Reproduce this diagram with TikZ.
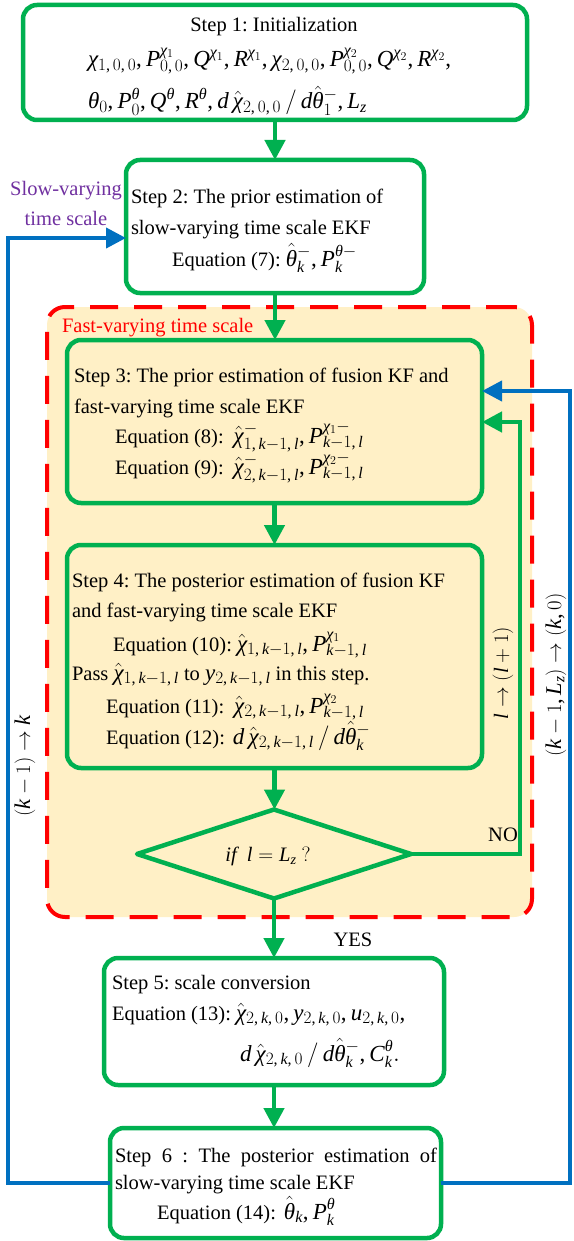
\documentclass[tikz,border=0pt]{standalone}
\usepackage{fontspec}
\setmainfont{Liberation Serif}
\DeclareSymbolFont{tuit}{TU}{\rmdefault}{m}{it}
\DeclareSymbolFont{turm}{TU}{\rmdefault}{m}{n}
\makeatletter
\count@=`a \loop \Umathcode\count@="7 \symtuit \count@ \ifnum\count@<`z \advance\count@ 1 \repeat
\count@=`A \loop \Umathcode\count@="7 \symtuit \count@ \ifnum\count@<`Z \advance\count@ 1 \repeat
\count@=`0 \loop \Umathcode\count@="7 \symturm \count@ \ifnum\count@<`9 \advance\count@ 1 \repeat
\makeatother
\Umathcode`(="4 \symturm `(
\Umathcode`)="5 \symturm `)
\Umathcode`,="6 \symturm `,
\Umathcode`/="0 \symturm `/
\Umathchardef\chi="7 \symtuit "03C7
\Umathchardef\theta="7 \symtuit "03B8
\newcommand\mth[1]{{\fontsize{23}{25}\selectfont$#1$}}
\usetikzlibrary{arrows.meta,shapes.geometric}
\definecolor{gr}{HTML}{00B050}
\definecolor{bl}{HTML}{0070C0}
\definecolor{rd}{HTML}{FF0000}
\definecolor{pu}{HTML}{7030A0}
\definecolor{ye}{HTML}{FFF0C6}
\begin{document}
\frenchspacing
\begin{tikzpicture}[x=1pt,y=-1pt,
 every node/.style={font=\fontsize{20.5}{25}\selectfont, inner sep=0pt, outer sep=0pt},
 stepbox/.style={draw=gr, line width=4.5pt, rounded corners=14pt, anchor=north west},
 garrow/.style={draw=gr, line width=4.5pt, -{Triangle[length=20pt,width=20pt]}},
 barrow/.style={draw=bl, line width=4pt, -{Triangle[length=20pt,width=20pt]}},
 txt/.style={anchor=base west},
]
\fill[white] (0,0) rectangle (573,1241);
\useasboundingbox (0,0) rectangle (573,1241);

% fast-varying region
\node[draw=rd, fill=ye, line width=4pt, dash pattern=on 28pt off 16pt, rounded corners=18pt,
      minimum width=485pt, minimum height=610pt, anchor=north west] (fast) at (47,307) {};
\node[txt, text=rd] (fastlbl) at (62,332) {Fast-varying time scale};

% boxes
\node[stepbox, fill=white, minimum width=504pt, minimum height=115pt] (s1) at (23,5) {};
\node[stepbox, fill=white, minimum width=298pt, minimum height=133pt] (s2) at (126,160) {};
\node[stepbox, minimum width=415pt, minimum height=163pt] (s3) at (67,340) {};
\node[stepbox, minimum width=415pt, minimum height=223pt] (s4) at (67,545) {};
\node[draw=gr, line width=4.5pt, line join=round, diamond, minimum width=274pt, minimum height=89pt] (dec) at (274,854) {};
\node[stepbox, fill=white, minimum width=340pt, minimum height=127pt] (s5) at (104,958) {};
\node[stepbox, fill=white, minimum width=331pt, minimum height=110pt] (s6) at (110,1128) {};

% step 1 text
\node[anchor=base] (t1a) at (274,32) {Step 1: Initialization};
\node[txt] (t1b) at (88,67) {\mth{\chi_{1,\,0,\,0}, P^{\chi_1}_{0,\,0}, Q^{\chi_1}, R^{\chi_1}, \chi_{2,\,0,\,0}, P^{\chi_2}_{0,\,0}, Q^{\chi_2}, R^{\chi_2},}};
\node[txt] (t1c) at (88,109) {\mth{\theta_0, P^{\theta}_0, Q^{\theta}, R^{\theta}, d\,\hat{\chi}_{2,\,0,\,0}\,/\,d\hat{\theta}^-_1, L_z}};

% step 2 text
\node[txt] (t2a) at (131,204) {Step 2: The prior estimation of};
\node[txt] (t2b) at (131,235) {slow-varying time scale EKF};
\node[txt] (t2c) at (172,266) {Equation (7): \mth{\hat{\theta}^-_k, P^{\theta-}_k}};

% step 3 text
\node[txt] (t3a) at (74,382) {Step 3: The prior estimation of fusion KF and};
\node[txt] (t3b) at (74,413) {fast-varying time scale EKF};
\node[txt] (t3c) at (115,443) {Equation (8):\hspace{10pt}\mth{\hat{\chi}^-_{1,\,k-1,\,l}, P^{\chi_1-}_{k-1,\,l}}};
\node[txt] (t3d) at (115,474) {Equation (9):\hspace{10pt}\mth{\hat{\chi}^-_{2,\,k-1,\,l}, P^{\chi_2-}_{k-1,\,l}}};

% step 4 text
\node[txt] (t4a) at (72,587) {Step 4: The posterior estimation of fusion KF};
\node[txt] (t4b) at (72,617) {and fast-varying time scale EKF};
\node[txt] (t4c) at (113,651) {Equation (10): \mth{\hat{\chi}_{1,\,k-1,\,l}, P^{\chi_1}_{k-1,\,l}}};
\node[txt] (t4d) at (72,680) {Pass \mth{\hat{\chi}_{1,\,k-1,\,l}} to \mth{y_{2,\,k-1,\,l}} in this step.};
\node[txt] (t4e) at (106,713) {Equation (11):\hspace{10pt}\mth{\hat{\chi}_{2,\,k-1,\,l}, P^{\chi_2}_{k-1,\,l}}};
\node[txt] (t4f) at (106,744) {Equation (12):\hspace{8pt}\mth{d\,\hat{\chi}_{2,\,k-1,\,l}\,/\,d\hat{\theta}^-_k}};

% decision text
\node (tdec) at (268,856) {$\mathit{if}\ \ l = L_z\ ?$};

% step 5 text
\node[txt] (t5a) at (112,989) {Step 5: scale conversion};
\node[txt] (t5b) at (112,1020) {Equation (13): \mth{\hat{\chi}_{2,\,k,\,0}, y_{2,\,k,\,0}, u_{2,\,k,\,0},}};
\node[txt] (t5c) at (240,1061) {\mth{d\,\hat{\chi}_{2,\,k,\,0}\,/\,d\hat{\theta}^-_k, C^{\theta}_k.}};

% step 6 text
\node[txt] (t6a) at (115,1162) {\makebox[322pt][s]{Step 6 : The posterior estimation of}};
\node[txt] (t6b) at (115,1189) {slow-varying time scale EKF};
\node[txt] (t6c) at (157,1219) {Equation (14):\hspace{8pt}\mth{\hat{\theta}_k, P^{\theta}_k}};

% green flow
\draw[garrow] (s1.south) -- (s1.south |- s2.north);
\draw[garrow] (s2.south) -- (s2.south |- s3.north);
\draw[garrow] (s3.south) -- (s3.south |- s4.north);
\draw[garrow] (s4.south) -- (s4.south |- dec.north);
\draw[garrow] (dec.south) -- (dec.south |- s5.north);
\draw[garrow] (s5.south) -- (s5.south |- s6.north);
\coordinate (lp) at (520,422);
\draw[garrow] (dec.east) -| (lp) -- (s3.east |- lp);

% blue loops
\coordinate (bl1) at (8,238);
\draw[barrow] (s6.west) -| (bl1) -- (s2.west |- bl1);
\coordinate (br1) at (570,391);
\draw[barrow] (s6.east) -| (br1) -- (s3.east |- br1);

% labels
\node[font=\fontsize{20.5}{30}\selectfont, text=pu, align=center] (slow) at (66,203) {Slow-varying\\time scale};
\node (no) at (503,835) {NO};
\node (yes) at (353,940) {YES};
\node[rotate=90, font=\fontsize{22.5}{25}\selectfont] (lab1) at (25,766) {$(k-1)\rightarrow k$};
\node[rotate=90] (lab2) at (503,673) {$l\rightarrow(l+1)$};
\node[rotate=90, font=\fontsize{22.5}{25}\selectfont] (lab3) at (556,675) {$(k-1, L_z)\rightarrow(k,0)$};
\end{tikzpicture}
\end{document}
